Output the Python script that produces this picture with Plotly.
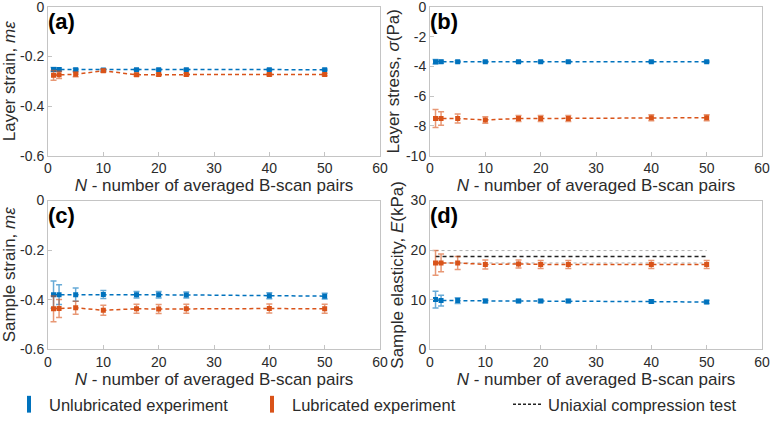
import plotly.graph_objects as go
from plotly.subplots import make_subplots

# Datos
n_pairs = [1, 2, 5, 10, 16, 20, 25, 40, 50]

# (a) deformacion de capa
a_unlub = [-0.252, -0.252, -0.253, -0.254, -0.253, -0.253, -0.253, -0.253, -0.253]
a_unlub_err = [0.008, 0.006, 0.005, 0.004, 0.003, 0.003, 0.003, 0.003, 0.003]
a_lub = [-0.276, -0.274, -0.272, -0.257, -0.274, -0.273, -0.273, -0.273, -0.273]
a_lub_err = [0.020, 0.015, 0.010, 0.006, 0.006, 0.005, 0.005, 0.005, 0.005]

# (b) esfuerzo de capa
b_unlub = [-3.68, -3.68, -3.68, -3.68, -3.68, -3.68, -3.68, -3.68, -3.68]
b_unlub_err = [0.15, 0.10, 0.06, 0.05, 0.05, 0.05, 0.05, 0.05, 0.05]
b_lub = [-7.5, -7.5, -7.5, -7.6, -7.5, -7.5, -7.5, -7.45, -7.45]
b_lub_err = [0.6, 0.45, 0.3, 0.22, 0.2, 0.2, 0.2, 0.2, 0.2]

# (c) deformacion de muestra
c_unlub = [-0.380, -0.380, -0.380, -0.379, -0.380, -0.380, -0.381, -0.384, -0.386]
c_unlub_err = [0.055, 0.040, 0.027, 0.016, 0.013, 0.013, 0.012, 0.012, 0.012]
c_lub = [-0.437, -0.436, -0.433, -0.443, -0.437, -0.438, -0.437, -0.436, -0.437]
c_lub_err = [0.052, 0.036, 0.026, 0.020, 0.018, 0.018, 0.018, 0.018, 0.018]

# (d) elasticidad de muestra
d_unlub = [10.0, 9.8, 9.8, 9.7, 9.7, 9.7, 9.7, 9.6, 9.5]
d_unlub_err = [1.7, 1.1, 0.6, 0.35, 0.3, 0.3, 0.3, 0.3, 0.3]
d_lub = [17.4, 17.4, 17.4, 17.1, 17.2, 17.1, 17.1, 17.1, 17.1]
d_lub_err = [2.5, 1.8, 1.3, 0.9, 0.8, 0.8, 0.8, 0.8, 0.8]

uniax_x = [1, 50]
uniax_mean = [18.7, 18.7]
uniax_hi = [19.9, 19.9]
uniax_lo = [17.4, 17.4]

x_ticks = [0, 10, 20, 30, 40, 50, 60]
strain_ticks = [0, -0.2, -0.4, -0.6]
strain_labels = ['0', '-0.2', '-0.4', '-0.6']
stress_ticks = [0, -2, -4, -6, -8, -10]
stress_labels = ['0', '-2', '-4', '-6', '-8', '-10']
elast_ticks = [0, 10, 20, 30]
elast_labels = ['0', '10', '20', '30']

BLUE = '#0072BD'
ORANGE = '#D95319'
BLUE_ERR = 'rgba(0,114,189,0.6)'
ORANGE_ERR = 'rgba(217,83,25,0.6)'
TXT = '#2b2b2b'
FONT = 'Liberation Sans, Arial, sans-serif'
DASH = '4px,3px'

fig = make_subplots(rows=2, cols=2)


def add_series(y, err, color, err_color, row, col):
    fig.add_trace(go.Scatter(
        x=n_pairs, y=y, mode='lines+markers',
        line=dict(color=color, width=1.5, dash=DASH),
        marker=dict(color=color, size=5, symbol='square'),
        error_y=dict(type='data', array=err, color=err_color, thickness=1.5, width=3),
        showlegend=False), row=row, col=col)


add_series(a_unlub, a_unlub_err, BLUE, BLUE_ERR, 1, 1)
add_series(a_lub, a_lub_err, ORANGE, ORANGE_ERR, 1, 1)
add_series(b_unlub, b_unlub_err, BLUE, BLUE_ERR, 1, 2)
add_series(b_lub, b_lub_err, ORANGE, ORANGE_ERR, 1, 2)
add_series(c_unlub, c_unlub_err, BLUE, BLUE_ERR, 2, 1)
add_series(c_lub, c_lub_err, ORANGE, ORANGE_ERR, 2, 1)

# ensayo de compresion uniaxial
for yv in (uniax_hi, uniax_lo):
    fig.add_trace(go.Scatter(x=uniax_x, y=yv, mode='lines',
                             line=dict(color='#b0b0b0', width=1, dash='dot'),
                             showlegend=False), row=2, col=2)
fig.add_trace(go.Scatter(x=uniax_x, y=uniax_mean, mode='lines',
                         line=dict(color='#222222', width=1.5, dash=DASH),
                         showlegend=False), row=2, col=2)
add_series(d_unlub, d_unlub_err, BLUE, BLUE_ERR, 2, 2)
add_series(d_lub, d_lub_err, ORANGE, ORANGE_ERR, 2, 2)

# entradas de leyenda (tres leyendas independientes)
fig.add_trace(go.Scatter(x=[None], y=[None], mode='markers',
                         marker=dict(color=BLUE, size=12, symbol='line-ns-open',
                                     line=dict(width=4, color=BLUE)),
                         name='Unlubricated experiment', legend='legend'))
fig.add_trace(go.Scatter(x=[None], y=[None], mode='markers',
                         marker=dict(color=ORANGE, size=12, symbol='line-ns-open',
                                     line=dict(width=4, color=ORANGE)),
                         name='Lubricated experiment', legend='legend2'))
fig.add_trace(go.Scatter(x=[None], y=[None], mode='lines',
                         line=dict(color='#222222', width=1.5, dash='3px,2px'),
                         name='Uniaxial compression test', legend='legend3'))

xdom = [[48 / 771, 380 / 771], [430 / 771, 762 / 771]]
ydom = [[1 - 156 / 422, 1 - 7 / 422], [1 - 350 / 422, 1 - 201 / 422]]

ytitles = {(1, 1): 'Layer strain, <i>mε</i>', (1, 2): 'Layer stress, <i>σ</i>(Pa)',
           (2, 1): 'Sample strain, <i>mε</i>', (2, 2): 'Sample elasticity, <i>E</i>(kPa)'}
yconf = {(1, 1): (strain_ticks, strain_labels, [-0.6, 0]),
         (1, 2): (stress_ticks, stress_labels, [-10, 0]),
         (2, 1): (strain_ticks, strain_labels, [-0.6, 0]),
         (2, 2): (elast_ticks, elast_labels, [0, 30])}
axis_style = dict(showline=True, linecolor='#c4c4c4', linewidth=1, mirror=True,
                  ticks='inside', ticklen=4, tickcolor='#c4c4c4', showgrid=False,
                  zeroline=False, automargin=False, ticklabeloverflow='allow',
                  tickfont=dict(size=14, color=TXT, family=FONT))

for r in (1, 2):
    for c in (1, 2):
        tv, tt, rng = yconf[(r, c)]
        fig.update_xaxes(domain=xdom[c - 1], range=[0, 60], tickvals=x_ticks,
                         title=dict(text='<i>N</i> - number of averaged B-scan pairs',
                                    font=dict(size=17, color=TXT, family=FONT),
                                    standoff=0),
                         row=r, col=c, **axis_style)
        fig.update_yaxes(domain=ydom[r - 1], range=rng, tickvals=tv, ticktext=tt,
                         title=dict(text=ytitles[(r, c)],
                                    font=dict(size=17, color=TXT, family=FONT),
                                    standoff=2),
                         row=r, col=c, **axis_style)

labels = ['(a)', '(b)', '(c)', '(d)']
pos = [(0, 0), (1, 0), (0, 1), (1, 1)]
for lab, (c, r) in zip(labels, pos):
    fig.add_annotation(x=xdom[c][0] - 0.002, y=ydom[r][1], xref='paper', yref='paper',
                       text='<b>' + lab + '</b>', showarrow=False, xanchor='left', yanchor='top',
                       font=dict(size=22, color='black', family=FONT))

leg_font = dict(size=16.5, color=TXT, family=FONT)
leg_y = 1 - 405 / 422
fig.update_layout(
    width=771, height=422,
    margin=dict(l=0, r=0, t=0, b=0),
    plot_bgcolor='white', paper_bgcolor='white',
    font=dict(family=FONT, color=TXT),
    legend=dict(x=9 / 771, y=leg_y, xanchor='left', yanchor='middle',
                font=leg_font, itemwidth=30, bgcolor='rgba(0,0,0,0)'),
    legend2=dict(x=252 / 771, y=leg_y, xanchor='left', yanchor='middle',
                 font=leg_font, itemwidth=30, bgcolor='rgba(0,0,0,0)'),
    legend3=dict(x=508 / 771, y=leg_y, xanchor='left', yanchor='middle',
                 font=leg_font, itemwidth=30, bgcolor='rgba(0,0,0,0)'),
)

fig.write_html('out.html', config={'displayModeBar': False},
               post_script="document.body.style.margin='0';")
